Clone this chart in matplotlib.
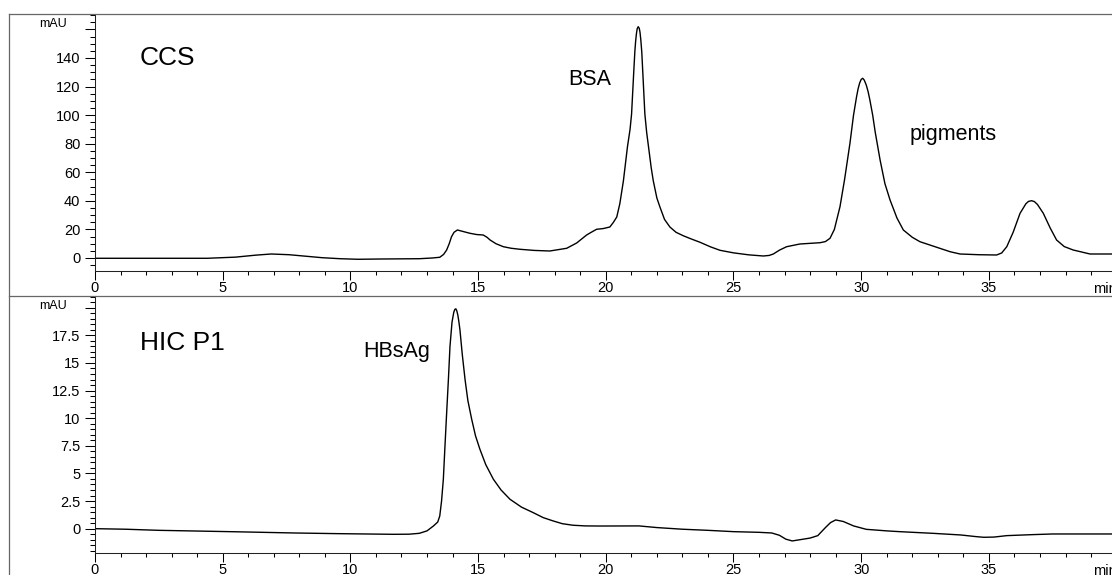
import matplotlib
matplotlib.use("Agg")
import matplotlib.pyplot as plt
from matplotlib.lines import Line2D
from matplotlib.ticker import MultipleLocator

plt.rcParams['font.family'] = ['Liberation Sans', 'DejaVu Sans']

# CCS trace (min, mAU)
ccs_t = [0, 2, 4.4, 5.5, 6.3, 6.9, 7.6, 8.4, 8.9, 9.6, 10.3, 11.2, 12.7, 13.2, 13.5,
         13.65, 13.77, 13.87, 13.96, 14.06, 14.19, 14.4, 14.68, 14.95, 15.2, 15.35,
         15.47, 15.7, 15.99, 16.3, 16.64, 17.2, 17.81, 18.2, 18.47, 18.86, 19.25,
         19.45, 19.64, 19.9, 20.16, 20.3, 20.43, 20.55, 20.69, 20.85, 20.95, 21.01, 21.07,
         21.1, 21.14, 21.17, 21.2, 21.23, 21.27, 21.31, 21.34, 21.37, 21.41, 21.44, 21.47,
         21.5, 21.53, 21.6, 21.7, 21.78, 21.86, 22.0, 22.12,
         22.3, 22.51, 22.75, 23.03, 23.35, 23.69, 24.1, 24.47, 25.0, 25.6, 26.17,
         26.4, 26.56, 26.8, 27.08, 27.6, 28.39, 28.6, 28.78, 28.95, 29.17, 29.35,
         29.56, 29.7, 29.82, 29.88, 29.94, 30.0, 30.06, 30.12, 30.2, 30.27, 30.34, 30.45,
         30.55, 30.74, 30.93, 31.13,
         31.4, 31.65, 32.0, 32.3, 32.9, 33.48, 33.87, 34.6, 35.3, 35.5, 35.7, 35.95,
         36.22, 36.45, 36.55, 36.67, 36.78, 36.9, 37.13, 37.4, 37.65, 37.95, 38.3, 38.96, 39.85]
ccs_mau = [-0.2, -0.2, -0.2, 0.6, 2.0, 2.8, 2.3, 1.0, 0.2, -0.5, -0.9, -0.7, -0.5, 0.0, 0.5,
           2.5, 5.6, 10.0, 14.9, 18.0, 19.6, 18.6, 17.3, 16.4, 16.1, 14.5,
           12.6, 10.0, 7.9, 6.8, 6.1, 5.3, 4.9, 6.0, 6.8, 10.5, 16.1,
           18.2, 20.1, 20.6, 21.7, 25, 28.7, 38, 54, 78, 90, 100.8, 122,
           132, 145, 152, 157, 160.5, 161.9, 160.8, 158, 153, 144, 133, 121,
           110, 100.8, 88, 74, 63, 54, 42, 35.7,
           27, 21.7, 18, 15.6, 13.3, 11.0, 7.8, 5.4, 3.6, 2.2, 1.4,
           1.8, 2.8, 5.5, 7.9, 9.8, 10.7, 11.5, 13.8, 20, 35.9, 55,
           80.3, 100, 113, 118.5, 122.5, 125, 125.8, 124.5, 121, 116.5, 110.6, 100,
           88, 68.6, 52, 40.6,
           28, 19.6, 14.5, 11.4, 7.8, 4.4, 2.8, 2.3, 2.1, 3.5, 7.9, 18,
           31.3, 38, 39.6, 40.1, 39.5, 37.5, 31.3, 21, 12.6, 8, 5.6, 2.8, 2.8]

# HIC P1 trace (min, mAU)
hic_t = [0, 1.2, 2.5, 3.9, 5.5, 7.8, 9.5, 11.7, 12.3, 12.7, 13.0, 13.25, 13.42, 13.5,
         13.57, 13.64, 13.7, 13.77, 13.84, 13.9, 13.98, 14.05, 14.09, 14.13, 14.17, 14.21, 14.25, 14.29,
         14.38, 14.49, 14.6, 14.75, 14.9, 15.07, 15.3, 15.6, 15.9, 16.25, 16.7, 17.16,
         17.55, 17.94, 18.3, 18.72, 19.2, 19.77, 21.3, 22.0, 23.0, 24.0, 25.0, 26.0,
         26.5, 26.8, 27.05, 27.3, 27.6, 28.0, 28.3, 28.6, 28.8, 29.0, 29.3, 29.7,
         30.2, 31.0, 31.5, 32.8, 33.9, 34.5, 34.8, 35.2, 35.7, 36.7, 37.5, 39.85]
hic_mau = [0.0, -0.05, -0.15, -0.21, -0.28, -0.39, -0.45, -0.51, -0.5, -0.42, -0.2, 0.24, 0.6, 1.15,
           2.5, 4.47, 7.3, 10.5, 13.6, 16.5, 18.7, 19.6, 19.85, 19.9, 19.7, 19.3, 18.7, 18.0,
           15.8, 13.5, 11.6, 9.9, 8.4, 7.2, 5.8, 4.47, 3.5, 2.66, 1.95, 1.45,
           1.0, 0.7, 0.45, 0.31, 0.25, 0.24, 0.25, 0.1, -0.05, -0.15, -0.27, -0.33,
           -0.39, -0.6, -0.95, -1.11, -1.0, -0.85, -0.63, 0.1, 0.55, 0.79, 0.65, 0.25,
           -0.06, -0.2, -0.27, -0.42, -0.57, -0.72, -0.78, -0.76, -0.63, -0.54, -0.48, -0.48]

ccs_yticks = [0, 20, 40, 60, 80, 100, 120, 140, 160]
ccs_ylabels = ['0', '20', '40', '60', '80', '100', '120', '140', '']
hic_yticks = [0, 2.5, 5, 7.5, 10, 12.5, 15, 17.5, 20]
hic_ylabels = ['0', '2.5', '5', '7.5', '10', '12.5', '15', '17.5', '']
xticks = [0, 5, 10, 15, 20, 25, 30, 35]


def style_axes(ax, ylim, yticks, ylabels, yminor, mau_y):
    ax.set_xlim(0, 39.82)
    ax.set_ylim(*ylim)
    for s in ['top', 'right']:
        ax.spines[s].set_visible(False)
    for s in ['left', 'bottom']:
        ax.spines[s].set_linewidth(0.75)
        ax.spines[s].set_color('#222222')
    ax.set_xticks(xticks)
    ax.set_xticklabels([str(x) for x in xticks])
    ax.xaxis.set_minor_locator(MultipleLocator(1))
    ax.set_yticks(yticks)
    ax.set_yticklabels(ylabels)
    ax.yaxis.set_minor_locator(MultipleLocator(yminor))
    ax.tick_params(axis='y', which='major', direction='out', length=7, width=0.75, pad=3.5, labelsize=10.5)
    ax.tick_params(axis='y', which='minor', direction='out', length=3.6, width=0.75)
    ax.tick_params(axis='x', which='major', direction='out', length=6.5, width=0.75, pad=1, labelsize=10.5)
    ax.tick_params(axis='x', which='minor', direction='out', length=3, width=0.75)
    ax.text(-0.028, mau_y, 'mAU', transform=ax.get_yaxis_transform(), ha='right', va='center', fontsize=9)
    ax.text(39.07, -0.07, 'min', transform=ax.get_xaxis_transform(), ha='left', va='center', fontsize=10.5)


fig = plt.figure(figsize=(11.12, 5.75), dpi=100)

ax1 = fig.add_axes([0.0854, 0.5287, 1 - 0.0854, 0.4470])
ax1.plot(ccs_t, ccs_mau, color='black', linewidth=1.0)
style_axes(ax1, (-9.1, 170.8), ccs_yticks, ccs_ylabels, 5, 163.8)
ax1.text(1.76, 135.1, 'CCS', fontsize=19, va='baseline')
ax1.text(18.52, 121.1, 'BSA', fontsize=15.5, va='baseline')
ax1.text(31.9, 82.6, 'pigments', fontsize=15.5, va='baseline')

ax2 = fig.add_axes([0.0854, 0.0383, 1 - 0.0854, 0.4469])
ax2.plot(hic_t, hic_mau, color='black', linewidth=1.0)
style_axes(ax2, (-2.2, 21.06), hic_yticks, hic_ylabels, 0.5, 20.2)
ax2.text(1.76, 16.17, 'HIC P1', fontsize=19, va='baseline')
ax2.text(10.49, 15.5, 'HBsAg', fontsize=15.5, va='baseline')

# outer frame of the report
fc = '#666666'
fig.add_artist(Line2D([0.0085, 1], [0.9757, 0.9757], color=fc, linewidth=0.9))
fig.add_artist(Line2D([0.0085, 1], [0.4852, 0.4852], color=fc, linewidth=0.9))
fig.add_artist(Line2D([0.0085, 0.0085], [0, 0.9757], color=fc, linewidth=0.9))

fig.savefig('out.png', dpi=100)
